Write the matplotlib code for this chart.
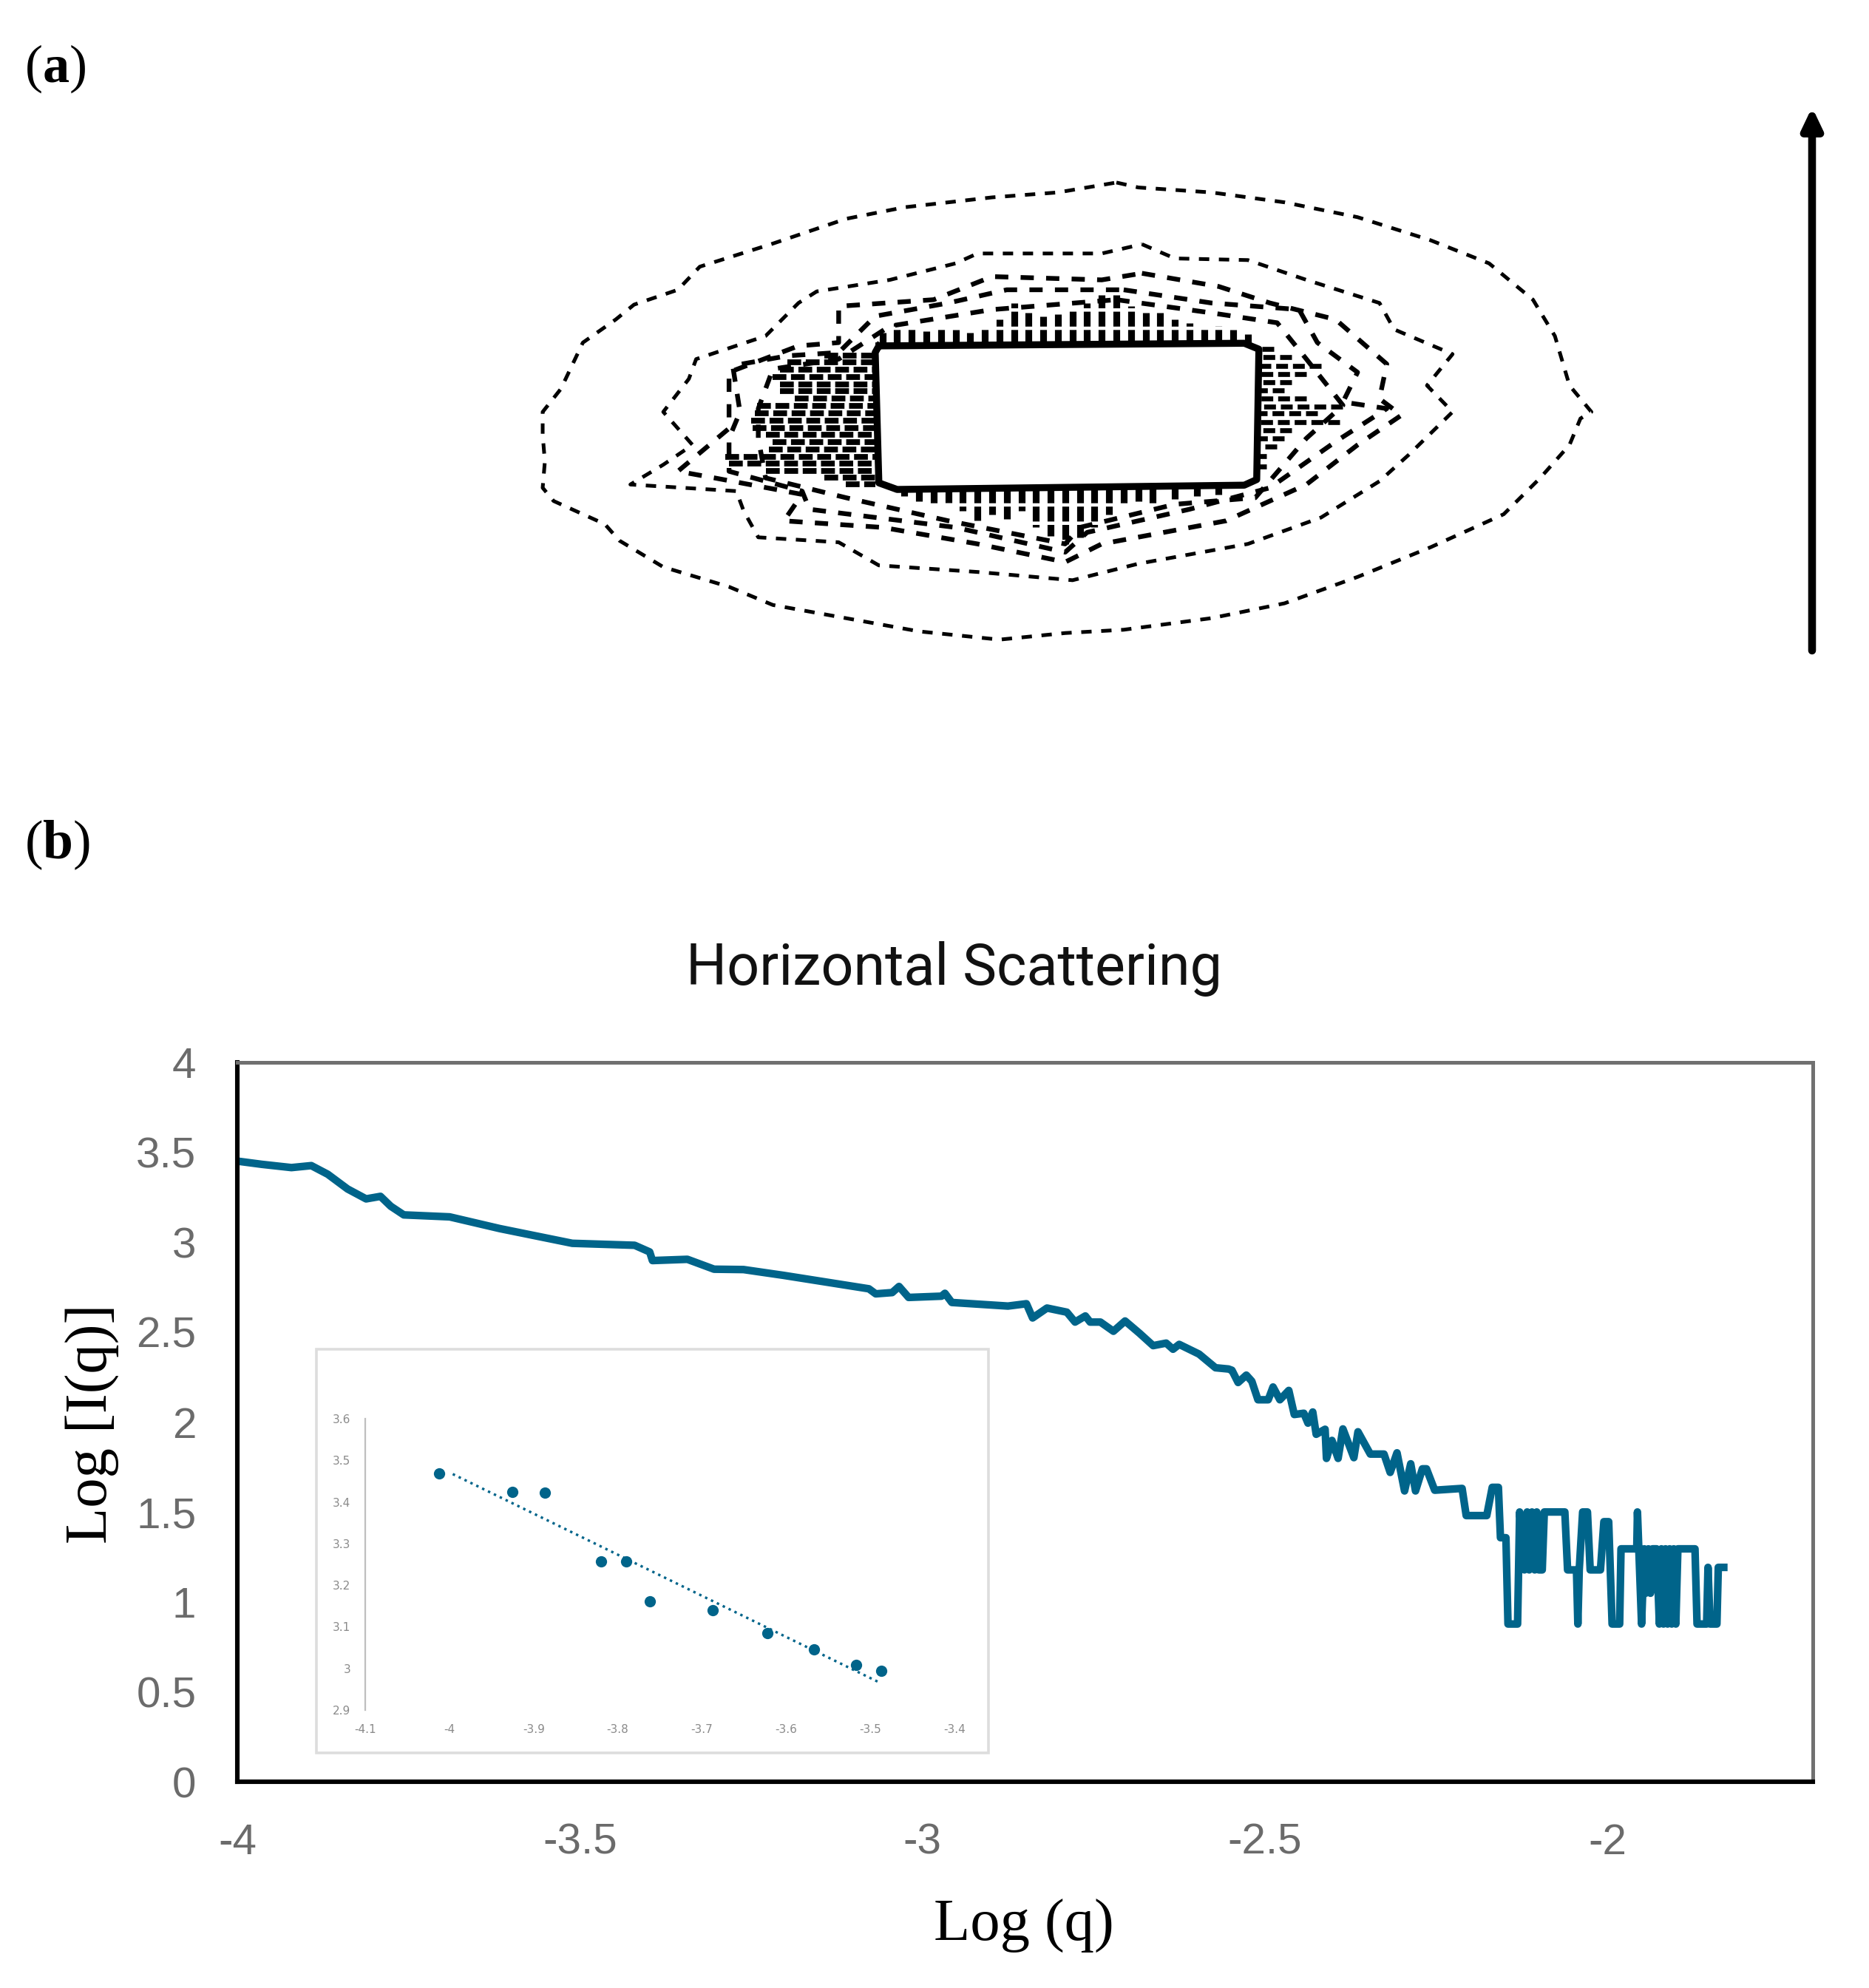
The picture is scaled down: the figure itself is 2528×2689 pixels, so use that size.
import matplotlib
matplotlib.use('Agg')
import matplotlib.pyplot as plt
from matplotlib.patches import Rectangle, FancyArrowPatch

W, H = 2528, 2689
DPI = 200
TEAL = '#00648a'
GREY = '#6b6b6b'

plt.rcParams['mathtext.fontset'] = 'custom'
plt.rcParams['mathtext.rm'] = 'Liberation Serif'
plt.rcParams['mathtext.bf'] = 'Liberation Serif:bold'

# main curve, Log q / Log I(q)
log_q = [-3.998, -3.964, -3.921, -3.892, -3.868, -3.839, -3.812, -3.791, -3.776, -3.757,
         -3.690, -3.617, -3.511, -3.420, -3.398, -3.394, -3.343, -3.304, -3.261, -3.203,
         -3.078, -3.068, -3.044, -3.034, -3.020, -2.972, -2.967, -2.957, -2.875, -2.848,
         -2.839, -2.818, -2.789, -2.777, -2.762, -2.755, -2.740, -2.721, -2.704, -2.683,
         -2.663, -2.644, -2.634, -2.625, -2.596, -2.572, -2.553, -2.548, -2.539, -2.527,
         -2.519, -2.510, -2.495, -2.488, -2.478, -2.465, -2.457, -2.443, -2.437, -2.430,
         -2.425, -2.412, -2.410, -2.402, -2.393, -2.386, -2.370, -2.364, -2.346, -2.326,
         -2.317, -2.307, -2.296, -2.287, -2.280, -2.270, -2.264, -2.252, -2.212, -2.206,
         -2.176, -2.168, -2.159, -2.156, -2.148, -2.145, -2.131, -2.128, -2.121, -2.117,
         -2.114, -2.110, -2.106, -2.103, -2.100, -2.095, -2.092, -2.062, -2.058, -2.045,
         -2.043, -2.041, -2.036, -2.029, -2.025, -2.010, -2.005, -1.998, -1.993, -1.982,
         -1.980, -1.957, -1.956, -1.954, -1.950, -1.946, -1.944, -1.940, -1.937, -1.934,
         -1.928, -1.924, -1.921, -1.918, -1.915, -1.912, -1.909, -1.906, -1.903, -1.900,
         -1.897, -1.872, -1.869, -1.855, -1.853, -1.850, -1.840, -1.838, -1.830]
log_i = [3.450, 3.433, 3.415, 3.426, 3.378, 3.296, 3.241, 3.255, 3.200, 3.152,
         3.141, 3.076, 2.994, 2.983, 2.946, 2.898, 2.905, 2.850, 2.848, 2.816,
         2.741, 2.713, 2.720, 2.754, 2.693, 2.700, 2.716, 2.665, 2.645, 2.658,
         2.579, 2.634, 2.611, 2.556, 2.590, 2.556, 2.556, 2.505, 2.562, 2.494,
         2.425, 2.439, 2.405, 2.432, 2.378, 2.302, 2.295, 2.288, 2.220, 2.261,
         2.227, 2.124, 2.124, 2.195, 2.124, 2.176, 2.042, 2.049, 1.994, 2.056,
         1.932, 1.960, 1.798, 1.898, 1.798, 1.962, 1.802, 1.946, 1.822, 1.822,
         1.720, 1.829, 1.617, 1.768, 1.617, 1.740, 1.740, 1.621, 1.631, 1.480,
         1.480, 1.637, 1.637, 1.357, 1.357, 0.877, 0.877, 1.500, 1.178, 1.500,
         1.178, 1.500, 1.178, 1.500, 1.178, 1.178, 1.500, 1.500, 1.178, 1.178,
         0.877, 1.178, 1.500, 1.500, 1.178, 1.178, 1.446, 1.446, 0.877, 0.877,
         1.295, 1.295, 1.500, 1.295, 0.877, 1.295, 1.048, 1.295, 1.048, 1.295,
         1.295, 0.877, 1.295, 0.877, 1.295, 0.877, 1.295, 0.877, 1.295, 0.877,
         1.295, 1.295, 0.877, 0.877, 1.192, 0.877, 0.877, 1.192, 1.192]

x_ticks = [-4, -3.5, -3, -2.5, -2]
y_ticks = [0, 0.5, 1, 1.5, 2, 2.5, 3, 3.5, 4]

# inset scatter and its trend line
inset_x = [-4.012, -3.925, -3.887, -3.820, -3.790, -3.762, -3.687, -3.622, -3.567, -3.517, -3.487]
inset_y = [3.469, 3.425, 3.423, 3.257, 3.257, 3.162, 3.139, 3.085, 3.046, 3.009, 2.994]
trend_x = [-3.996, -3.491]
trend_y = [3.467, 2.968]
inset_x_ticks = [-4.1, -4, -3.9, -3.8, -3.7, -3.6, -3.5, -3.4]
inset_y_ticks = [2.9, 3, 3.1, 3.2, 3.3, 3.4, 3.5, 3.6]

# panel a contour rings, in traced image units
ring_1 = [(870, 105), (900, 120), (1000, 135), (1100, 165), (1200, 210), (1300, 280), (1380, 350),
          (1440, 460), (1470, 570), (1490, 720), (1520, 800), (1505, 820), (1490, 900), (1450, 1000),
          (1400, 1110), (1300, 1210), (1200, 1300), (1100, 1380), (1000, 1425), (880, 1460), (800, 1470),
          (710, 1490), (600, 1465), (500, 1425), (400, 1385), (340, 1330), (250, 1270), (190, 1190),
          (170, 1140), (100, 1070), (85, 1030), (88, 950), (85, 870), (85, 800), (110, 730), (125, 660),
          (140, 590), (185, 520), (210, 475), (270, 430), (300, 360), (400, 290), (500, 215), (580, 180),
          (700, 150), (790, 135), (870, 105)]
ring_2 = [(905, 292), (950, 335), (1050, 340), (1130, 400), (1230, 470), (1250, 550), (1330, 625),
          (1295, 720), (1330, 800), (1270, 930), (1230, 1010), (1150, 1120), (1050, 1200), (900, 1260),
          (810, 1310), (680, 1285), (545, 1265), (490, 1195), (380, 1180), (360, 1100), (350, 1040),
          (205, 1020), (250, 960), (290, 900), (250, 800), (285, 700), (295, 640), (390, 570), (435, 470),
          (460, 435), (560, 400), (650, 350), (680, 320), (850, 320), (905, 292)]
ring_3 = [(905, 380), (1010, 420), (1080, 470), (1170, 520), (1240, 655), (1230, 760), (1260, 810),
          (1200, 900), (1130, 1020), (1020, 1130), (850, 1200), (800, 1255), (680, 1200), (550, 1150),
          (415, 1130), (440, 1050), (320, 1000), (270, 980), (340, 850), (340, 770), (340, 680),
          (435, 600), (490, 590), (490, 480), (620, 460), (700, 390), (850, 400), (905, 380)]
ring_4 = [(880, 430), (1000, 470), (1120, 490), (1145, 590), (1200, 680), (1180, 770), (1240, 790),
          (1170, 890), (1080, 1030), (970, 1095), (830, 1165), (800, 1225), (650, 1150), (450, 1095),
          (440, 1040), (340, 980), (340, 880), (355, 800), (345, 660), (420, 630), (490, 620), (540, 510),
          (640, 470), (720, 430), (880, 430)]
ring_5 = [(870, 460), (1000, 500), (1090, 530), (1130, 640), (1180, 780), (1130, 880), (1060, 1060),
          (950, 1080), (820, 1150), (800, 1200), (640, 1130), (500, 1060), (390, 1000), (380, 880),
          (380, 790), (400, 670), (490, 640), (560, 540), (700, 490), (870, 460)]
rings = [ring_1, ring_2, ring_3, ring_4, ring_5]

hole = [(545, 600), (1045, 592), (1065, 610), (1062, 1005), (1045, 1022), (570, 1035), (545, 1015), (540, 620), (545, 600)]

# clusters of closely packed contour dashes around the hole
top_spike_x = [550, 570, 590, 610, 630, 650, 670, 690, 710, 730, 750, 770, 790, 810, 830, 850, 870,
               890, 910, 930, 950, 970, 990, 1010, 1030, 1050]
top_spike_y = [560, 530, 545, 555, 545, 550, 560, 545, 520, 470, 500, 510, 505, 490, 470, 445, 445,
               480, 500, 500, 520, 530, 545, 540, 550, 565]
bottom_spike_x = [580, 600, 620, 640, 660, 680, 700, 720, 740, 760, 780, 800, 820, 840, 860, 880,
                  900, 920, 950, 980, 1010]
bottom_spike_y = [1055, 1070, 1085, 1075, 1100, 1130, 1110, 1125, 1100, 1150, 1175, 1200, 1180, 1150,
                  1110, 1085, 1070, 1080, 1065, 1055, 1050]
left_band_y = [630, 650, 672, 694, 716, 738, 760, 782, 804, 826, 848, 870, 892, 914, 936, 956, 978, 1000, 1020]
left_band_x = [470, 420, 410, 400, 410, 410, 430, 378, 375, 370, 372, 390, 400, 395, 335, 340, 390, 470, 500]
right_band_y = [610, 635, 660, 685, 710, 735, 760, 785, 805, 830, 855, 880, 905, 935, 965]
right_band_x = [1085, 1110, 1150, 1130, 1110, 1100, 1130, 1180, 1145, 1175, 1110, 1100, 1090, 1075, 1075]


def px_axes(left, top, right, bottom):
    return fig.add_axes([left / W, 1 - bottom / H, (right - left) / W, (bottom - top) / H])


fig = plt.figure(figsize=(W / DPI, H / DPI), dpi=DPI, facecolor='white')

# panel a
ax_a = px_axes(650, 200, 2200, 900)
ax_a.set_xlim(0, 1568)
ax_a.set_ylim(1568, 0)
ax_a.axis('off')
for i, ring in enumerate(rings):
    ax_a.plot([p[0] for p in ring], [p[1] for p in ring], color='black',
              lw=1.8 if i < 2 else 2.3, ls=(0, (2.8, 2.6)))
ax_a.plot([p[0] for p in hole], [p[1] for p in hole], color='black', lw=3.4)
for x, y in zip(top_spike_x, top_spike_y):
    ax_a.plot([x, x], [595, y], color='black', lw=3.3, ls=(0, (2.2, 0.5)))
for x, y in zip(bottom_spike_x, bottom_spike_y):
    ax_a.plot([x, x], [1030, y], color='black', lw=3.3, ls=(0, (2.2, 0.5)))
for x, y in zip(left_band_x, left_band_y):
    ax_a.plot([x, 540], [y, y], color='black', lw=2.8, ls=(0, (2.4, 0.8)))
for x, y in zip(right_band_x, right_band_y):
    ax_a.plot([x, 1065], [y, y], color='black', lw=2.4, ls=(0, (2.4, 1.0)))

# arrow beside the contours
fig.add_artist(FancyArrowPatch(
    (2451 / W, 1 - 880 / H), (2451 / W, 1 - 145 / H), transform=fig.transFigure,
    arrowstyle='-|>,head_length=0.42,head_width=0.2', mutation_scale=20, lw=3.8,
    color='black', shrinkA=0, shrinkB=0))

fig.text(33 / W, 1 - 93 / H, r'($\mathbf{a}$)', fontsize=26, family='Liberation Serif', va='center')
fig.text(33 / W, 1 - 1143 / H, r'($\mathbf{b}$)', fontsize=26.5, family='Liberation Serif', va='center')

# panel b
ax = px_axes(321, 1437, 2452, 2410)
ax.plot(log_q, log_i, color=TEAL, lw=3.7, solid_joinstyle='round')
ax.set_xlim(-4, -1.7)
ax.set_ylim(0, 4)
ax.set_xticks(x_ticks, [f'{v:g}' for v in x_ticks])
ax.set_yticks(y_ticks, [f'{v:g}' for v in y_ticks])
ax.tick_params(axis='x', length=0, pad=20, labelsize=21, labelcolor=GREY)
ax.tick_params(axis='y', length=0, pad=20, labelsize=21, labelcolor=GREY)
for label in ax.get_xticklabels() + ax.get_yticklabels():
    label.set_family('Liberation Sans')
for side in ['left', 'bottom']:
    ax.spines[side].set_color('black')
    ax.spines[side].set_linewidth(2.2)
for side in ['top', 'right']:
    ax.spines[side].set_color('#707070')
    ax.spines[side].set_linewidth(1.8)

fig.text(1290 / W, 1 - 1311 / H, 'Horizontal Scattering', fontsize=27.8, family='Roboto',
         color='#111111', ha='center', va='center')
fig.text(125 / W, 1 - 1926 / H, 'Log [I(q)]', fontsize=29, family='Liberation Serif',
         rotation=90, ha='center', va='center')
fig.text(1385 / W, 1 - 2605 / H, 'Log (q)', fontsize=29, family='Liberation Serif',
         ha='center', va='center')

# inset frame and plot
fig.add_artist(Rectangle((428 / W, 1 - 2371 / H), 909 / W, 546 / H, transform=fig.transFigure,
                         fill=False, ec='#dddddd', lw=1.3))
inset = px_axes(494, 1919, 1291, 2313)
inset.plot(trend_x, trend_y, color=TEAL, lw=1.2, ls=':')
inset.plot(inset_x, inset_y, 'o', color=TEAL, ms=5.5, mec='none')
inset.set_xlim(-4.1, -3.4)
inset.set_ylim(2.9, 3.6)
inset.set_xticks(inset_x_ticks, [f'{v:g}' for v in inset_x_ticks])
inset.set_yticks(inset_y_ticks, [f'{v:g}' for v in inset_y_ticks])
inset.tick_params(length=0, pad=7, labelsize=5.5, labelcolor='#8a8a8a')
inset.patch.set_alpha(0)
for side in ['top', 'right', 'bottom']:
    inset.spines[side].set_visible(False)
inset.spines['left'].set_color('#bfbfbf')
inset.spines['left'].set_linewidth(0.8)

fig.savefig('out.png', dpi=DPI, facecolor='white')
